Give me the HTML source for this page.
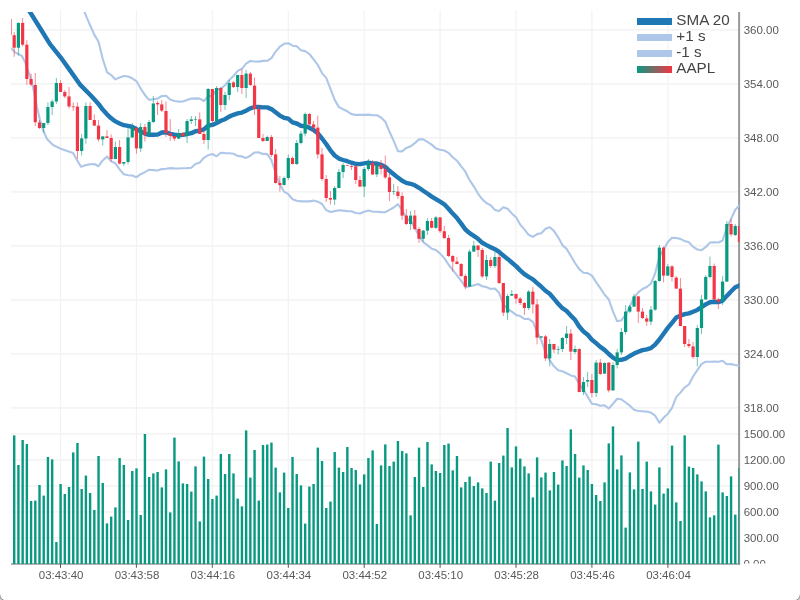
<!DOCTYPE html><html><head><meta charset="utf-8"><title>AAPL chart</title><style>html,body{margin:0;padding:0;background:#fff;overflow:hidden}svg{display:block}text{font-family:"Liberation Sans",sans-serif}</style></head><body>
<svg width="800" height="600" viewBox="0 0 800 600">
<defs><clipPath id="cp"><rect x="11" y="12" width="728.3" height="413"/></clipPath><clipPath id="cv"><rect x="11" y="420" width="728.3" height="144"/></clipPath><linearGradient id="lg" x1="0" x2="1" y1="0" y2="0"><stop offset="0" stop-color="#089981"/><stop offset="1" stop-color="#f23645"/></linearGradient></defs>
<rect width="800" height="600" fill="#cfcfcf"/>
<path d="M0 0H800V594.4a6 6 0 0 1 -6 6H6a6 6 0 0 1 -6 -6Z" fill="#fff"/>
<path d="M-0.3 594.4a6.3 6.3 0 0 0 6.3 6.3" fill="none" stroke="#8c8c8c" stroke-width="1"/><path d="M800.3 594.4a6.3 6.3 0 0 1 -6.3 6.3" fill="none" stroke="#8c8c8c" stroke-width="1"/>
<line x1="11" x2="739" y1="29.9" y2="29.9" stroke="#f0f0f0" stroke-width="1.15"/>
<line x1="11" x2="739" y1="83.9" y2="83.9" stroke="#f0f0f0" stroke-width="1.15"/>
<line x1="11" x2="739" y1="137.9" y2="137.9" stroke="#f0f0f0" stroke-width="1.15"/>
<line x1="11" x2="739" y1="191.9" y2="191.9" stroke="#f0f0f0" stroke-width="1.15"/>
<line x1="11" x2="739" y1="245.9" y2="245.9" stroke="#f0f0f0" stroke-width="1.15"/>
<line x1="11" x2="739" y1="299.9" y2="299.9" stroke="#f0f0f0" stroke-width="1.15"/>
<line x1="11" x2="739" y1="353.9" y2="353.9" stroke="#f0f0f0" stroke-width="1.15"/>
<line x1="11" x2="739" y1="407.9" y2="407.9" stroke="#f0f0f0" stroke-width="1.15"/>
<line x1="11" x2="739" y1="433.9" y2="433.9" stroke="#f0f0f0" stroke-width="1.15"/>
<line x1="11" x2="739" y1="459.9" y2="459.9" stroke="#f0f0f0" stroke-width="1.15"/>
<line x1="11" x2="739" y1="485.8" y2="485.8" stroke="#f0f0f0" stroke-width="1.15"/>
<line x1="11" x2="739" y1="511.8" y2="511.8" stroke="#f0f0f0" stroke-width="1.15"/>
<line x1="11" x2="739" y1="537.8" y2="537.8" stroke="#f0f0f0" stroke-width="1.15"/>
<line x1="60.5" x2="60.5" y1="10.5" y2="564" stroke="#f2f2f2" stroke-width="1.2"/>
<line x1="136.4" x2="136.4" y1="10.5" y2="564" stroke="#f2f2f2" stroke-width="1.2"/>
<line x1="212.3" x2="212.3" y1="10.5" y2="564" stroke="#f2f2f2" stroke-width="1.2"/>
<line x1="288.3" x2="288.3" y1="10.5" y2="564" stroke="#f2f2f2" stroke-width="1.2"/>
<line x1="364.2" x2="364.2" y1="10.5" y2="564" stroke="#f2f2f2" stroke-width="1.2"/>
<line x1="440.1" x2="440.1" y1="10.5" y2="564" stroke="#f2f2f2" stroke-width="1.2"/>
<line x1="516.0" x2="516.0" y1="10.5" y2="564" stroke="#f2f2f2" stroke-width="1.2"/>
<line x1="591.9" x2="591.9" y1="10.5" y2="564" stroke="#f2f2f2" stroke-width="1.2"/>
<line x1="667.9" x2="667.9" y1="10.5" y2="564" stroke="#f2f2f2" stroke-width="1.2"/>
<line x1="739.1" x2="739.1" y1="12" y2="564.5" stroke="#999999" stroke-width="2"/>
<line x1="11" x2="740" y1="564" y2="564" stroke="#999999" stroke-width="1.3"/>
<line x1="60.5" x2="60.5" y1="564" y2="567.8" stroke="#555" stroke-width="1"/>
<line x1="136.4" x2="136.4" y1="564" y2="567.8" stroke="#555" stroke-width="1"/>
<line x1="212.3" x2="212.3" y1="564" y2="567.8" stroke="#555" stroke-width="1"/>
<line x1="288.3" x2="288.3" y1="564" y2="567.8" stroke="#555" stroke-width="1"/>
<line x1="364.2" x2="364.2" y1="564" y2="567.8" stroke="#555" stroke-width="1"/>
<line x1="440.1" x2="440.1" y1="564" y2="567.8" stroke="#555" stroke-width="1"/>
<line x1="516.0" x2="516.0" y1="564" y2="567.8" stroke="#555" stroke-width="1"/>
<line x1="591.9" x2="591.9" y1="564" y2="567.8" stroke="#555" stroke-width="1"/>
<line x1="667.9" x2="667.9" y1="564" y2="567.8" stroke="#555" stroke-width="1"/>
<g clip-path="url(#cp)">
<polyline points="11.0,-18.0 30.0,12.0 40.0,28.0 50.0,44.1 60.6,57.3 70.0,70.4 80.0,84.6 90.1,94.8 94.3,99.3 98.5,103.9 102.7,109.6 107.0,114.3 111.2,118.3 115.4,121.4 119.6,123.5 123.8,125.2 128.0,125.9 132.3,126.9 136.5,129.2 140.7,131.4 144.9,133.6 149.1,134.8 153.3,134.7 157.6,134.6 161.8,132.5 166.0,132.3 170.2,133.8 174.4,134.7 178.6,135.1 182.9,134.9 187.1,134.1 191.3,133.2 195.5,131.2 199.7,130.6 203.9,129.4 208.2,125.7 212.4,124.9 216.6,123.0 220.8,120.8 225.0,119.2 229.2,116.6 233.5,114.8 237.7,113.4 241.9,112.6 246.1,110.7 250.3,108.3 254.5,107.0 258.8,107.0 263.0,107.4 267.2,107.4 271.4,109.1 275.6,112.3 279.8,115.6 284.1,117.8 288.3,118.7 292.5,122.4 296.7,123.5 300.9,125.8 305.1,126.3 309.4,127.7 313.6,130.0 317.8,133.3 322.0,138.5 326.2,144.0 330.4,150.3 334.7,155.5 338.9,158.6 343.1,160.0 347.3,161.2 351.5,162.7 355.7,164.0 360.0,164.1 364.2,163.3 368.4,162.6 372.6,163.4 376.8,163.5 381.0,164.8 385.3,166.9 389.5,170.8 393.7,174.2 397.9,177.6 402.1,180.7 406.3,182.9 410.6,183.8 414.8,185.3 419.0,187.8 423.2,190.7 427.4,193.5 431.7,196.6 435.9,199.2 440.1,201.7 444.3,204.3 448.5,208.7 452.7,213.6 457.0,218.1 461.2,223.6 465.4,229.5 469.6,233.2 473.8,235.9 478.0,238.8 482.3,242.8 486.5,245.1 490.7,247.2 494.9,249.2 499.1,251.9 503.3,255.6 507.6,258.9 511.8,262.5 516.0,266.1 520.2,270.4 524.4,274.2 528.6,276.9 532.9,279.3 537.1,283.1 541.3,286.7 545.5,290.8 549.7,293.7 553.9,298.6 558.2,303.8 562.4,308.2 566.6,311.0 570.8,315.6 575.0,319.8 579.2,326.5 583.5,331.5 587.7,334.8 591.9,339.7 596.1,343.1 600.3,346.9 604.5,349.9 608.8,354.0 613.0,357.7 617.2,360.1 621.4,359.8 625.6,358.6 629.8,356.0 634.1,353.6 638.3,351.7 642.5,350.1 646.7,349.3 650.9,348.1 655.1,344.6 659.4,339.5 663.6,333.7 667.8,327.9 672.0,322.8 676.2,317.6 680.4,315.7 684.7,314.2 688.9,313.4 693.1,311.7 697.3,309.9 701.5,307.2 705.7,304.4 710.0,302.2 714.2,301.8 718.4,302.1 722.6,300.6 726.8,295.9 731.0,291.5 735.3,287.3 739.5,285.4 743.7,283.4" fill="none" stroke="#1f77b4" stroke-width="4.4" stroke-linejoin="round" stroke-linecap="round"/>
<polyline points="70.0,-22.6 86.0,15.6 90.1,25.3 94.3,34.6 98.5,41.7 102.7,58.8 107.0,72.1 111.2,75.1 115.4,79.4 119.6,77.5 123.8,76.0 128.0,76.5 132.3,78.3 136.5,81.3 140.7,88.6 144.9,95.0 149.1,99.9 153.3,99.3 157.6,98.6 161.8,96.0 166.0,95.8 170.2,99.5 174.4,101.0 178.6,101.6 182.9,101.5 187.1,100.1 191.3,98.6 195.5,98.4 199.7,98.6 203.9,101.0 208.2,96.2 212.4,95.9 216.6,89.6 220.8,88.8 225.0,85.3 229.2,80.0 233.5,76.0 237.7,70.9 241.9,68.8 246.1,63.6 250.3,61.0 254.5,61.5 258.8,61.6 263.0,60.9 267.2,60.8 271.4,58.1 275.6,51.6 279.8,46.7 284.1,43.8 288.3,43.2 292.5,45.7 296.7,46.2 300.9,50.3 305.1,51.1 309.4,54.0 313.6,59.3 317.8,64.9 322.0,73.1 326.2,77.9 330.4,88.6 334.7,99.9 338.9,107.1 343.1,109.3 347.3,111.3 351.5,114.1 355.7,114.9 360.0,114.7 364.2,114.9 368.4,114.6 372.6,115.2 376.8,115.2 381.0,117.5 385.3,121.7 389.5,131.8 393.7,140.9 397.9,151.1 402.1,151.4 406.3,147.9 410.6,146.3 414.8,143.2 419.0,139.4 423.2,139.3 427.4,141.9 431.7,144.6 435.9,148.4 440.1,149.8 444.3,150.5 448.5,152.8 452.7,157.3 457.0,160.7 461.2,166.4 465.4,171.7 469.6,180.2 473.8,186.3 478.0,193.6 482.3,199.4 486.5,203.0 490.7,205.3 494.9,209.9 499.1,211.1 503.3,207.2 507.6,208.7 511.8,213.4 516.0,217.3 520.2,224.6 524.4,229.4 528.6,234.9 532.9,236.8 537.1,234.1 541.3,233.2 545.5,228.8 549.7,227.3 553.9,230.9 558.2,237.3 562.4,245.1 566.6,248.9 570.8,255.8 575.0,263.0 579.2,269.1 583.5,272.8 587.7,273.1 591.9,275.6 596.1,282.1 600.3,288.1 604.5,294.5 608.8,299.5 613.0,311.7 617.2,321.3 621.4,320.3 625.6,314.7 629.8,306.3 634.1,297.4 638.3,292.4 642.5,289.0 646.7,287.0 650.9,283.7 655.1,273.5 659.4,256.4 663.6,249.7 667.8,242.0 672.0,237.7 676.2,238.0 680.4,238.9 684.7,241.1 688.9,242.3 693.1,246.9 697.3,249.5 701.5,250.2 705.7,247.2 710.0,242.5 714.2,242.2 718.4,242.5 722.6,240.5 726.8,227.4 731.0,219.0 735.3,209.7 739.5,205.2 743.7,200.6" fill="none" stroke="#aec7e8" stroke-width="2.1" stroke-linejoin="round"/>
<polyline points="11.0,48.0 15.0,52.4 22.0,56.0 25.0,62.0 30.0,76.0 33.0,87.0 37.0,107.0 40.0,120.0 43.0,130.0 47.0,139.0 53.0,145.0 60.0,148.4 73.0,153.1 77.0,160.1 81.0,166.7 86.0,165.1 90.1,164.3 94.3,164.0 98.5,166.2 102.7,160.4 107.0,156.4 111.2,161.4 115.4,163.3 119.6,169.4 123.8,174.3 128.0,175.3 132.3,175.5 136.5,177.2 140.7,174.2 144.9,172.1 149.1,169.7 153.3,170.1 157.6,170.5 161.8,169.1 166.0,168.7 170.2,168.1 174.4,168.4 178.6,168.5 182.9,168.3 187.1,168.1 191.3,167.7 195.5,164.0 199.7,162.6 203.9,157.8 208.2,155.2 212.4,154.0 216.6,156.3 220.8,152.8 225.0,153.1 229.2,153.2 233.5,153.7 237.7,155.9 241.9,156.4 246.1,157.9 250.3,155.7 254.5,152.5 258.8,152.4 263.0,153.9 267.2,154.1 271.4,160.1 275.6,173.0 279.8,184.4 284.1,191.7 288.3,194.2 292.5,199.2 296.7,200.8 300.9,201.4 305.1,201.4 309.4,201.4 313.6,200.6 317.8,201.7 322.0,204.0 326.2,210.1 330.4,212.0 334.7,211.1 338.9,210.2 343.1,210.6 347.3,211.1 351.5,211.3 355.7,213.0 360.0,213.5 364.2,211.8 368.4,210.6 372.6,211.6 376.8,211.7 381.0,212.1 385.3,212.2 389.5,209.9 393.7,207.5 397.9,204.2 402.1,209.9 406.3,218.0 410.6,221.3 414.8,227.4 419.0,236.2 423.2,242.1 427.4,245.1 431.7,248.7 435.9,250.0 440.1,253.6 444.3,258.1 448.5,264.5 452.7,269.8 457.0,275.4 461.2,280.8 465.4,287.3 469.6,286.2 473.8,285.4 478.0,284.0 482.3,286.3 486.5,287.1 490.7,289.0 494.9,288.5 499.1,292.8 503.3,304.1 507.6,309.0 511.8,311.7 516.0,314.9 520.2,316.1 524.4,319.0 528.6,318.9 532.9,321.8 537.1,332.1 541.3,340.2 545.5,352.9 549.7,360.1 553.9,366.3 558.2,370.3 562.4,371.2 566.6,373.2 570.8,375.4 575.0,376.5 579.2,383.9 583.5,390.1 587.7,396.6 591.9,403.8 596.1,404.2 600.3,405.7 604.5,405.3 608.8,408.5 613.0,403.7 617.2,398.8 621.4,399.3 625.6,402.5 629.8,405.7 634.1,409.8 638.3,411.0 642.5,411.3 646.7,411.6 650.9,412.6 655.1,415.6 659.4,422.7 663.6,417.7 667.8,413.8 672.0,407.8 676.2,397.1 680.4,392.6 684.7,387.3 688.9,384.5 693.1,376.5 697.3,370.2 701.5,364.2 705.7,361.7 710.0,361.8 714.2,361.5 718.4,361.7 722.6,360.7 726.8,364.3 731.0,364.1 735.3,365.0 739.5,365.6 743.7,366.2" fill="none" stroke="#aec7e8" stroke-width="2.1" stroke-linejoin="round"/>
<line x1="9.97" x2="9.97" y1="19.0" y2="35.0" stroke="#f23645" stroke-width="1" stroke-opacity="0.58"/>
<rect x="8.37" y="19.0" width="3.2" height="16.0" fill="#f23645"/>
<line x1="14.19" x2="14.19" y1="32.2" y2="56.7" stroke="#f23645" stroke-width="1" stroke-opacity="0.58"/>
<rect x="12.59" y="35.2" width="3.2" height="12.5" fill="#f23645"/>
<line x1="18.40" x2="18.40" y1="22.5" y2="55.5" stroke="#089981" stroke-width="1" stroke-opacity="0.58"/>
<rect x="16.80" y="22.9" width="3.2" height="24.8" fill="#089981"/>
<line x1="22.62" x2="22.62" y1="18.0" y2="46.5" stroke="#f23645" stroke-width="1" stroke-opacity="0.58"/>
<rect x="21.02" y="22.9" width="3.2" height="21.8" fill="#f23645"/>
<line x1="26.84" x2="26.84" y1="40.2" y2="85.0" stroke="#f23645" stroke-width="1" stroke-opacity="0.58"/>
<rect x="25.24" y="44.7" width="3.2" height="34.3" fill="#f23645"/>
<line x1="31.05" x2="31.05" y1="73.6" y2="86.0" stroke="#f23645" stroke-width="1" stroke-opacity="0.58"/>
<rect x="29.45" y="79.0" width="3.2" height="5.5" fill="#f23645"/>
<line x1="35.27" x2="35.27" y1="73.0" y2="126.0" stroke="#f23645" stroke-width="1" stroke-opacity="0.58"/>
<rect x="33.67" y="85.0" width="3.2" height="37.2" fill="#f23645"/>
<line x1="39.49" x2="39.49" y1="120.0" y2="129.0" stroke="#f23645" stroke-width="1" stroke-opacity="0.58"/>
<rect x="37.89" y="122.4" width="3.2" height="5.6" fill="#f23645"/>
<line x1="43.70" x2="43.70" y1="123.0" y2="132.6" stroke="#089981" stroke-width="1" stroke-opacity="0.58"/>
<rect x="42.10" y="123.0" width="3.2" height="5.0" fill="#089981"/>
<line x1="47.92" x2="47.92" y1="102.4" y2="125.0" stroke="#089981" stroke-width="1" stroke-opacity="0.58"/>
<rect x="46.32" y="107.0" width="3.2" height="16.0" fill="#089981"/>
<line x1="52.14" x2="52.14" y1="99.5" y2="115.0" stroke="#089981" stroke-width="1" stroke-opacity="0.58"/>
<rect x="50.54" y="101.5" width="3.2" height="5.5" fill="#089981"/>
<line x1="56.35" x2="56.35" y1="78.0" y2="104.0" stroke="#089981" stroke-width="1" stroke-opacity="0.58"/>
<rect x="54.75" y="83.0" width="3.2" height="18.5" fill="#089981"/>
<line x1="60.57" x2="60.57" y1="80.0" y2="92.0" stroke="#f23645" stroke-width="1" stroke-opacity="0.58"/>
<rect x="58.97" y="83.0" width="3.2" height="9.0" fill="#f23645"/>
<line x1="64.79" x2="64.79" y1="90.0" y2="98.0" stroke="#f23645" stroke-width="1" stroke-opacity="0.58"/>
<rect x="63.19" y="92.0" width="3.2" height="4.4" fill="#f23645"/>
<line x1="69.01" x2="69.01" y1="87.0" y2="108.5" stroke="#f23645" stroke-width="1" stroke-opacity="0.58"/>
<rect x="67.41" y="96.4" width="3.2" height="10.1" fill="#f23645"/>
<line x1="73.22" x2="73.22" y1="102.4" y2="111.0" stroke="#f23645" stroke-width="1" stroke-opacity="0.58"/>
<rect x="71.62" y="106.5" width="3.2" height="0.7" fill="#f23645"/>
<line x1="77.44" x2="77.44" y1="102.4" y2="159.0" stroke="#f23645" stroke-width="1" stroke-opacity="0.58"/>
<rect x="75.84" y="106.6" width="3.2" height="44.4" fill="#f23645"/>
<line x1="81.66" x2="81.66" y1="134.0" y2="155.6" stroke="#089981" stroke-width="1" stroke-opacity="0.58"/>
<rect x="80.06" y="138.4" width="3.2" height="12.6" fill="#089981"/>
<line x1="85.87" x2="85.87" y1="102.4" y2="143.6" stroke="#089981" stroke-width="1" stroke-opacity="0.58"/>
<rect x="84.27" y="106.0" width="3.2" height="32.4" fill="#089981"/>
<line x1="90.09" x2="90.09" y1="102.4" y2="120.0" stroke="#f23645" stroke-width="1" stroke-opacity="0.58"/>
<rect x="88.49" y="106.0" width="3.2" height="14.0" fill="#f23645"/>
<line x1="94.31" x2="94.31" y1="114.4" y2="126.0" stroke="#f23645" stroke-width="1" stroke-opacity="0.58"/>
<rect x="92.71" y="120.0" width="3.2" height="5.6" fill="#f23645"/>
<line x1="98.52" x2="98.52" y1="120.0" y2="141.6" stroke="#f23645" stroke-width="1" stroke-opacity="0.58"/>
<rect x="96.92" y="125.6" width="3.2" height="13.8" fill="#f23645"/>
<line x1="102.74" x2="102.74" y1="136.4" y2="145.6" stroke="#089981" stroke-width="1" stroke-opacity="0.58"/>
<rect x="101.14" y="136.4" width="3.2" height="3.0" fill="#089981"/>
<line x1="106.96" x2="106.96" y1="130.0" y2="138.0" stroke="#f23645" stroke-width="1" stroke-opacity="0.58"/>
<rect x="105.36" y="136.4" width="3.2" height="1.6" fill="#f23645"/>
<line x1="111.17" x2="111.17" y1="134.4" y2="161.6" stroke="#f23645" stroke-width="1" stroke-opacity="0.58"/>
<rect x="109.57" y="138.0" width="3.2" height="21.0" fill="#f23645"/>
<line x1="115.39" x2="115.39" y1="141.6" y2="159.0" stroke="#089981" stroke-width="1" stroke-opacity="0.58"/>
<rect x="113.79" y="147.0" width="3.2" height="12.0" fill="#089981"/>
<line x1="119.61" x2="119.61" y1="140.0" y2="164.4" stroke="#f23645" stroke-width="1" stroke-opacity="0.58"/>
<rect x="118.01" y="147.0" width="3.2" height="16.6" fill="#f23645"/>
<line x1="123.82" x2="123.82" y1="162.0" y2="166.0" stroke="#089981" stroke-width="1" stroke-opacity="0.58"/>
<rect x="122.22" y="162.0" width="3.2" height="1.6" fill="#089981"/>
<line x1="128.04" x2="128.04" y1="128.0" y2="164.4" stroke="#089981" stroke-width="1" stroke-opacity="0.58"/>
<rect x="126.44" y="137.4" width="3.2" height="24.6" fill="#089981"/>
<line x1="132.26" x2="132.26" y1="123.0" y2="138.0" stroke="#089981" stroke-width="1" stroke-opacity="0.58"/>
<rect x="130.66" y="127.0" width="3.2" height="10.4" fill="#089981"/>
<line x1="136.47" x2="136.47" y1="126.0" y2="153.6" stroke="#f23645" stroke-width="1" stroke-opacity="0.58"/>
<rect x="134.87" y="128.0" width="3.2" height="20.4" fill="#f23645"/>
<line x1="140.69" x2="140.69" y1="123.0" y2="152.0" stroke="#089981" stroke-width="1" stroke-opacity="0.58"/>
<rect x="139.09" y="127.0" width="3.2" height="21.4" fill="#089981"/>
<line x1="144.91" x2="144.91" y1="124.0" y2="141.6" stroke="#f23645" stroke-width="1" stroke-opacity="0.58"/>
<rect x="143.31" y="127.0" width="3.2" height="8.0" fill="#f23645"/>
<line x1="149.12" x2="149.12" y1="120.0" y2="136.0" stroke="#089981" stroke-width="1" stroke-opacity="0.58"/>
<rect x="147.52" y="122.0" width="3.2" height="13.0" fill="#089981"/>
<line x1="153.34" x2="153.34" y1="96.0" y2="123.0" stroke="#089981" stroke-width="1" stroke-opacity="0.58"/>
<rect x="151.74" y="103.5" width="3.2" height="18.5" fill="#089981"/>
<line x1="157.56" x2="157.56" y1="101.0" y2="115.0" stroke="#f23645" stroke-width="1" stroke-opacity="0.58"/>
<rect x="155.96" y="103.0" width="3.2" height="1.4" fill="#f23645"/>
<line x1="161.77" x2="161.77" y1="100.0" y2="112.0" stroke="#f23645" stroke-width="1" stroke-opacity="0.58"/>
<rect x="160.17" y="104.4" width="3.2" height="6.2" fill="#f23645"/>
<line x1="165.99" x2="165.99" y1="101.6" y2="137.0" stroke="#f23645" stroke-width="1" stroke-opacity="0.58"/>
<rect x="164.39" y="111.0" width="3.2" height="22.0" fill="#f23645"/>
<line x1="170.21" x2="170.21" y1="119.0" y2="141.0" stroke="#f23645" stroke-width="1" stroke-opacity="0.58"/>
<rect x="168.61" y="133.0" width="3.2" height="3.0" fill="#f23645"/>
<line x1="174.43" x2="174.43" y1="136.0" y2="141.0" stroke="#f23645" stroke-width="1" stroke-opacity="0.58"/>
<rect x="172.83" y="136.0" width="3.2" height="2.6" fill="#f23645"/>
<line x1="178.64" x2="178.64" y1="129.0" y2="139.0" stroke="#089981" stroke-width="1" stroke-opacity="0.58"/>
<rect x="177.04" y="133.0" width="3.2" height="5.6" fill="#089981"/>
<line x1="182.86" x2="182.86" y1="132.0" y2="137.0" stroke="#f23645" stroke-width="1" stroke-opacity="0.58"/>
<rect x="181.26" y="133.0" width="3.2" height="3.0" fill="#f23645"/>
<line x1="187.08" x2="187.08" y1="119.0" y2="143.0" stroke="#089981" stroke-width="1" stroke-opacity="0.58"/>
<rect x="185.48" y="121.0" width="3.2" height="15.0" fill="#089981"/>
<line x1="191.29" x2="191.29" y1="116.0" y2="124.0" stroke="#089981" stroke-width="1" stroke-opacity="0.58"/>
<rect x="189.69" y="119.4" width="3.2" height="1.6" fill="#089981"/>
<line x1="195.51" x2="195.51" y1="116.0" y2="126.0" stroke="#089981" stroke-width="1" stroke-opacity="0.58"/>
<rect x="193.91" y="119.4" width="3.2" height="0.6" fill="#089981"/>
<line x1="199.73" x2="199.73" y1="112.4" y2="134.0" stroke="#f23645" stroke-width="1" stroke-opacity="0.58"/>
<rect x="198.13" y="119.4" width="3.2" height="14.6" fill="#f23645"/>
<line x1="203.94" x2="203.94" y1="131.0" y2="144.0" stroke="#f23645" stroke-width="1" stroke-opacity="0.58"/>
<rect x="202.34" y="134.0" width="3.2" height="6.0" fill="#f23645"/>
<line x1="208.16" x2="208.16" y1="88.0" y2="149.6" stroke="#089981" stroke-width="1" stroke-opacity="0.58"/>
<rect x="206.56" y="89.0" width="3.2" height="51.0" fill="#089981"/>
<line x1="212.38" x2="212.38" y1="89.0" y2="123.0" stroke="#f23645" stroke-width="1" stroke-opacity="0.58"/>
<rect x="210.78" y="89.0" width="3.2" height="32.0" fill="#f23645"/>
<line x1="216.59" x2="216.59" y1="86.0" y2="121.0" stroke="#089981" stroke-width="1" stroke-opacity="0.58"/>
<rect x="214.99" y="88.0" width="3.2" height="33.0" fill="#089981"/>
<line x1="220.81" x2="220.81" y1="87.0" y2="112.0" stroke="#f23645" stroke-width="1" stroke-opacity="0.58"/>
<rect x="219.21" y="88.0" width="3.2" height="17.0" fill="#f23645"/>
<line x1="225.03" x2="225.03" y1="91.6" y2="110.0" stroke="#089981" stroke-width="1" stroke-opacity="0.58"/>
<rect x="223.43" y="95.0" width="3.2" height="10.0" fill="#089981"/>
<line x1="229.24" x2="229.24" y1="80.0" y2="100.0" stroke="#089981" stroke-width="1" stroke-opacity="0.58"/>
<rect x="227.64" y="83.0" width="3.2" height="12.0" fill="#089981"/>
<line x1="233.46" x2="233.46" y1="81.0" y2="88.0" stroke="#f23645" stroke-width="1" stroke-opacity="0.58"/>
<rect x="231.86" y="82.4" width="3.2" height="4.6" fill="#f23645"/>
<line x1="237.68" x2="237.68" y1="75.0" y2="92.0" stroke="#089981" stroke-width="1" stroke-opacity="0.58"/>
<rect x="236.08" y="75.0" width="3.2" height="12.0" fill="#089981"/>
<line x1="241.89" x2="241.89" y1="69.0" y2="94.0" stroke="#f23645" stroke-width="1" stroke-opacity="0.58"/>
<rect x="240.29" y="75.0" width="3.2" height="13.0" fill="#f23645"/>
<line x1="246.11" x2="246.11" y1="70.0" y2="98.0" stroke="#089981" stroke-width="1" stroke-opacity="0.58"/>
<rect x="244.51" y="73.6" width="3.2" height="14.4" fill="#089981"/>
<line x1="250.33" x2="250.33" y1="72.0" y2="86.0" stroke="#f23645" stroke-width="1" stroke-opacity="0.58"/>
<rect x="248.73" y="73.6" width="3.2" height="11.4" fill="#f23645"/>
<line x1="254.54" x2="254.54" y1="77.6" y2="115.0" stroke="#f23645" stroke-width="1" stroke-opacity="0.58"/>
<rect x="252.94" y="85.6" width="3.2" height="23.4" fill="#f23645"/>
<line x1="258.76" x2="258.76" y1="105.0" y2="138.0" stroke="#f23645" stroke-width="1" stroke-opacity="0.58"/>
<rect x="257.16" y="109.0" width="3.2" height="29.0" fill="#f23645"/>
<line x1="262.98" x2="262.98" y1="134.0" y2="142.0" stroke="#f23645" stroke-width="1" stroke-opacity="0.58"/>
<rect x="261.38" y="138.0" width="3.2" height="3.0" fill="#f23645"/>
<line x1="267.19" x2="267.19" y1="135.6" y2="141.0" stroke="#089981" stroke-width="1" stroke-opacity="0.58"/>
<rect x="265.59" y="137.0" width="3.2" height="4.0" fill="#089981"/>
<line x1="271.41" x2="271.41" y1="135.0" y2="157.0" stroke="#f23645" stroke-width="1" stroke-opacity="0.58"/>
<rect x="269.81" y="137.0" width="3.2" height="18.0" fill="#f23645"/>
<line x1="275.63" x2="275.63" y1="149.0" y2="183.6" stroke="#f23645" stroke-width="1" stroke-opacity="0.58"/>
<rect x="274.03" y="154.4" width="3.2" height="28.6" fill="#f23645"/>
<line x1="279.85" x2="279.85" y1="176.0" y2="191.6" stroke="#f23645" stroke-width="1" stroke-opacity="0.58"/>
<rect x="278.25" y="183.0" width="3.2" height="2.0" fill="#f23645"/>
<line x1="284.06" x2="284.06" y1="176.5" y2="185.6" stroke="#089981" stroke-width="1" stroke-opacity="0.58"/>
<rect x="282.46" y="178.0" width="3.2" height="7.0" fill="#089981"/>
<line x1="288.28" x2="288.28" y1="154.4" y2="180.0" stroke="#089981" stroke-width="1" stroke-opacity="0.58"/>
<rect x="286.68" y="158.0" width="3.2" height="20.0" fill="#089981"/>
<line x1="292.50" x2="292.50" y1="156.4" y2="164.4" stroke="#f23645" stroke-width="1" stroke-opacity="0.58"/>
<rect x="290.90" y="158.0" width="3.2" height="6.0" fill="#f23645"/>
<line x1="296.71" x2="296.71" y1="140.0" y2="165.0" stroke="#089981" stroke-width="1" stroke-opacity="0.58"/>
<rect x="295.11" y="143.0" width="3.2" height="21.0" fill="#089981"/>
<line x1="300.93" x2="300.93" y1="131.0" y2="144.4" stroke="#089981" stroke-width="1" stroke-opacity="0.58"/>
<rect x="299.33" y="133.6" width="3.2" height="9.4" fill="#089981"/>
<line x1="305.15" x2="305.15" y1="112.4" y2="136.4" stroke="#089981" stroke-width="1" stroke-opacity="0.58"/>
<rect x="303.55" y="114.0" width="3.2" height="19.6" fill="#089981"/>
<line x1="309.36" x2="309.36" y1="113.0" y2="125.0" stroke="#f23645" stroke-width="1" stroke-opacity="0.58"/>
<rect x="307.76" y="114.0" width="3.2" height="10.4" fill="#f23645"/>
<line x1="313.58" x2="313.58" y1="121.0" y2="133.0" stroke="#f23645" stroke-width="1" stroke-opacity="0.58"/>
<rect x="311.98" y="124.4" width="3.2" height="3.2" fill="#f23645"/>
<line x1="317.80" x2="317.80" y1="115.6" y2="158.5" stroke="#f23645" stroke-width="1" stroke-opacity="0.58"/>
<rect x="316.20" y="127.6" width="3.2" height="26.8" fill="#f23645"/>
<line x1="322.01" x2="322.01" y1="148.0" y2="181.0" stroke="#f23645" stroke-width="1" stroke-opacity="0.58"/>
<rect x="320.41" y="154.4" width="3.2" height="24.6" fill="#f23645"/>
<line x1="326.23" x2="326.23" y1="175.0" y2="202.0" stroke="#f23645" stroke-width="1" stroke-opacity="0.58"/>
<rect x="324.63" y="179.0" width="3.2" height="19.0" fill="#f23645"/>
<line x1="330.45" x2="330.45" y1="191.0" y2="204.4" stroke="#f23645" stroke-width="1" stroke-opacity="0.58"/>
<rect x="328.85" y="198.0" width="3.2" height="1.6" fill="#f23645"/>
<line x1="334.66" x2="334.66" y1="186.0" y2="205.0" stroke="#089981" stroke-width="1" stroke-opacity="0.58"/>
<rect x="333.06" y="188.0" width="3.2" height="11.6" fill="#089981"/>
<line x1="338.88" x2="338.88" y1="169.0" y2="188.0" stroke="#089981" stroke-width="1" stroke-opacity="0.58"/>
<rect x="337.28" y="172.0" width="3.2" height="16.0" fill="#089981"/>
<line x1="343.10" x2="343.10" y1="163.0" y2="178.0" stroke="#089981" stroke-width="1" stroke-opacity="0.58"/>
<rect x="341.50" y="165.0" width="3.2" height="7.0" fill="#089981"/>
<line x1="347.31" x2="347.31" y1="165.0" y2="166.0" stroke="#f23645" stroke-width="1" stroke-opacity="0.58"/>
<rect x="345.71" y="165.1" width="3.2" height="0.6" fill="#f23645"/>
<line x1="351.53" x2="351.53" y1="165.0" y2="170.0" stroke="#f23645" stroke-width="1" stroke-opacity="0.58"/>
<rect x="349.93" y="166.0" width="3.2" height="0.8" fill="#f23645"/>
<line x1="355.75" x2="355.75" y1="165.0" y2="184.0" stroke="#f23645" stroke-width="1" stroke-opacity="0.58"/>
<rect x="354.15" y="166.4" width="3.2" height="13.6" fill="#f23645"/>
<line x1="359.96" x2="359.96" y1="176.0" y2="187.0" stroke="#f23645" stroke-width="1" stroke-opacity="0.58"/>
<rect x="358.36" y="180.0" width="3.2" height="6.6" fill="#f23645"/>
<line x1="364.18" x2="364.18" y1="167.0" y2="197.0" stroke="#089981" stroke-width="1" stroke-opacity="0.58"/>
<rect x="362.58" y="169.0" width="3.2" height="17.6" fill="#089981"/>
<line x1="368.40" x2="368.40" y1="159.0" y2="171.0" stroke="#089981" stroke-width="1" stroke-opacity="0.58"/>
<rect x="366.80" y="163.0" width="3.2" height="6.0" fill="#089981"/>
<line x1="372.61" x2="372.61" y1="160.0" y2="175.0" stroke="#f23645" stroke-width="1" stroke-opacity="0.58"/>
<rect x="371.01" y="163.0" width="3.2" height="11.4" fill="#f23645"/>
<line x1="376.83" x2="376.83" y1="165.0" y2="177.0" stroke="#089981" stroke-width="1" stroke-opacity="0.58"/>
<rect x="375.23" y="165.0" width="3.2" height="9.4" fill="#089981"/>
<line x1="381.05" x2="381.05" y1="160.0" y2="174.4" stroke="#f23645" stroke-width="1" stroke-opacity="0.58"/>
<rect x="379.45" y="165.0" width="3.2" height="4.0" fill="#f23645"/>
<line x1="385.27" x2="385.27" y1="155.6" y2="179.0" stroke="#f23645" stroke-width="1" stroke-opacity="0.58"/>
<rect x="383.67" y="169.0" width="3.2" height="8.4" fill="#f23645"/>
<line x1="389.48" x2="389.48" y1="173.0" y2="201.0" stroke="#f23645" stroke-width="1" stroke-opacity="0.58"/>
<rect x="387.88" y="177.4" width="3.2" height="14.6" fill="#f23645"/>
<line x1="393.70" x2="393.70" y1="184.0" y2="195.0" stroke="#089981" stroke-width="1" stroke-opacity="0.58"/>
<rect x="392.10" y="191.3" width="3.2" height="0.6" fill="#089981"/>
<line x1="397.92" x2="397.92" y1="186.0" y2="199.0" stroke="#f23645" stroke-width="1" stroke-opacity="0.58"/>
<rect x="396.32" y="191.6" width="3.2" height="4.4" fill="#f23645"/>
<line x1="402.13" x2="402.13" y1="192.4" y2="220.0" stroke="#f23645" stroke-width="1" stroke-opacity="0.58"/>
<rect x="400.53" y="196.0" width="3.2" height="19.6" fill="#f23645"/>
<line x1="406.35" x2="406.35" y1="209.0" y2="225.0" stroke="#f23645" stroke-width="1" stroke-opacity="0.58"/>
<rect x="404.75" y="215.6" width="3.2" height="8.4" fill="#f23645"/>
<line x1="410.57" x2="410.57" y1="211.0" y2="230.0" stroke="#089981" stroke-width="1" stroke-opacity="0.58"/>
<rect x="408.97" y="215.6" width="3.2" height="8.4" fill="#089981"/>
<line x1="414.78" x2="414.78" y1="210.0" y2="230.0" stroke="#f23645" stroke-width="1" stroke-opacity="0.58"/>
<rect x="413.18" y="215.6" width="3.2" height="13.4" fill="#f23645"/>
<line x1="419.00" x2="419.00" y1="227.0" y2="243.0" stroke="#f23645" stroke-width="1" stroke-opacity="0.58"/>
<rect x="417.40" y="229.0" width="3.2" height="9.8" fill="#f23645"/>
<line x1="423.22" x2="423.22" y1="230.0" y2="241.6" stroke="#089981" stroke-width="1" stroke-opacity="0.58"/>
<rect x="421.62" y="230.6" width="3.2" height="8.2" fill="#089981"/>
<line x1="427.43" x2="427.43" y1="218.2" y2="235.0" stroke="#089981" stroke-width="1" stroke-opacity="0.58"/>
<rect x="425.83" y="221.0" width="3.2" height="9.6" fill="#089981"/>
<line x1="431.65" x2="431.65" y1="218.0" y2="228.4" stroke="#f23645" stroke-width="1" stroke-opacity="0.58"/>
<rect x="430.05" y="221.0" width="3.2" height="6.8" fill="#f23645"/>
<line x1="435.87" x2="435.87" y1="216.0" y2="229.0" stroke="#089981" stroke-width="1" stroke-opacity="0.58"/>
<rect x="434.27" y="217.4" width="3.2" height="10.4" fill="#089981"/>
<line x1="440.08" x2="440.08" y1="217.0" y2="233.0" stroke="#f23645" stroke-width="1" stroke-opacity="0.58"/>
<rect x="438.48" y="217.4" width="3.2" height="13.8" fill="#f23645"/>
<line x1="444.30" x2="444.30" y1="226.0" y2="239.0" stroke="#f23645" stroke-width="1" stroke-opacity="0.58"/>
<rect x="442.70" y="231.2" width="3.2" height="6.8" fill="#f23645"/>
<line x1="448.52" x2="448.52" y1="235.0" y2="257.0" stroke="#f23645" stroke-width="1" stroke-opacity="0.58"/>
<rect x="446.92" y="238.0" width="3.2" height="18.0" fill="#f23645"/>
<line x1="452.73" x2="452.73" y1="255.0" y2="271.6" stroke="#f23645" stroke-width="1" stroke-opacity="0.58"/>
<rect x="451.13" y="256.0" width="3.2" height="5.6" fill="#f23645"/>
<line x1="456.95" x2="456.95" y1="257.0" y2="264.4" stroke="#f23645" stroke-width="1" stroke-opacity="0.58"/>
<rect x="455.35" y="261.6" width="3.2" height="2.4" fill="#f23645"/>
<line x1="461.17" x2="461.17" y1="263.0" y2="277.0" stroke="#f23645" stroke-width="1" stroke-opacity="0.58"/>
<rect x="459.57" y="264.0" width="3.2" height="12.0" fill="#f23645"/>
<line x1="465.38" x2="465.38" y1="274.0" y2="289.0" stroke="#f23645" stroke-width="1" stroke-opacity="0.58"/>
<rect x="463.78" y="276.0" width="3.2" height="10.6" fill="#f23645"/>
<line x1="469.60" x2="469.60" y1="249.6" y2="287.0" stroke="#089981" stroke-width="1" stroke-opacity="0.58"/>
<rect x="468.00" y="251.6" width="3.2" height="35.0" fill="#089981"/>
<line x1="473.82" x2="473.82" y1="241.0" y2="252.0" stroke="#089981" stroke-width="1" stroke-opacity="0.58"/>
<rect x="472.22" y="245.6" width="3.2" height="6.0" fill="#089981"/>
<line x1="478.03" x2="478.03" y1="245.0" y2="257.0" stroke="#f23645" stroke-width="1" stroke-opacity="0.58"/>
<rect x="476.43" y="245.6" width="3.2" height="4.4" fill="#f23645"/>
<line x1="482.25" x2="482.25" y1="248.0" y2="278.0" stroke="#f23645" stroke-width="1" stroke-opacity="0.58"/>
<rect x="480.65" y="250.0" width="3.2" height="26.4" fill="#f23645"/>
<line x1="486.47" x2="486.47" y1="255.0" y2="280.0" stroke="#089981" stroke-width="1" stroke-opacity="0.58"/>
<rect x="484.87" y="260.0" width="3.2" height="16.4" fill="#089981"/>
<line x1="490.69" x2="490.69" y1="257.0" y2="268.0" stroke="#f23645" stroke-width="1" stroke-opacity="0.58"/>
<rect x="489.09" y="260.0" width="3.2" height="6.0" fill="#f23645"/>
<line x1="494.90" x2="494.90" y1="252.0" y2="268.0" stroke="#089981" stroke-width="1" stroke-opacity="0.58"/>
<rect x="493.30" y="257.0" width="3.2" height="9.0" fill="#089981"/>
<line x1="499.12" x2="499.12" y1="254.0" y2="284.0" stroke="#f23645" stroke-width="1" stroke-opacity="0.58"/>
<rect x="497.52" y="257.0" width="3.2" height="26.0" fill="#f23645"/>
<line x1="503.34" x2="503.34" y1="283.0" y2="316.0" stroke="#f23645" stroke-width="1" stroke-opacity="0.58"/>
<rect x="501.74" y="283.0" width="3.2" height="29.6" fill="#f23645"/>
<line x1="507.55" x2="507.55" y1="294.0" y2="320.0" stroke="#089981" stroke-width="1" stroke-opacity="0.58"/>
<rect x="505.95" y="296.0" width="3.2" height="16.6" fill="#089981"/>
<line x1="511.77" x2="511.77" y1="290.0" y2="296.0" stroke="#089981" stroke-width="1" stroke-opacity="0.58"/>
<rect x="510.17" y="294.0" width="3.2" height="1.6" fill="#089981"/>
<line x1="515.99" x2="515.99" y1="293.6" y2="303.6" stroke="#f23645" stroke-width="1" stroke-opacity="0.58"/>
<rect x="514.39" y="294.0" width="3.2" height="4.6" fill="#f23645"/>
<line x1="520.20" x2="520.20" y1="297.0" y2="305.0" stroke="#f23645" stroke-width="1" stroke-opacity="0.58"/>
<rect x="518.60" y="298.6" width="3.2" height="4.4" fill="#f23645"/>
<line x1="524.42" x2="524.42" y1="302.0" y2="315.0" stroke="#f23645" stroke-width="1" stroke-opacity="0.58"/>
<rect x="522.82" y="303.0" width="3.2" height="5.0" fill="#f23645"/>
<line x1="528.64" x2="528.64" y1="290.0" y2="310.0" stroke="#089981" stroke-width="1" stroke-opacity="0.58"/>
<rect x="527.04" y="291.6" width="3.2" height="16.4" fill="#089981"/>
<line x1="532.85" x2="532.85" y1="287.0" y2="313.6" stroke="#f23645" stroke-width="1" stroke-opacity="0.58"/>
<rect x="531.25" y="291.6" width="3.2" height="12.8" fill="#f23645"/>
<line x1="537.07" x2="537.07" y1="299.0" y2="344.4" stroke="#f23645" stroke-width="1" stroke-opacity="0.58"/>
<rect x="535.47" y="304.4" width="3.2" height="33.2" fill="#f23645"/>
<line x1="541.29" x2="541.29" y1="336.4" y2="337.6" stroke="#089981" stroke-width="1" stroke-opacity="0.58"/>
<rect x="539.69" y="336.4" width="3.2" height="1.2" fill="#089981"/>
<line x1="545.50" x2="545.50" y1="335.0" y2="361.0" stroke="#f23645" stroke-width="1" stroke-opacity="0.58"/>
<rect x="543.90" y="336.4" width="3.2" height="22.0" fill="#f23645"/>
<line x1="549.72" x2="549.72" y1="339.0" y2="366.4" stroke="#089981" stroke-width="1" stroke-opacity="0.58"/>
<rect x="548.12" y="344.0" width="3.2" height="14.4" fill="#089981"/>
<line x1="553.94" x2="553.94" y1="343.6" y2="353.0" stroke="#f23645" stroke-width="1" stroke-opacity="0.58"/>
<rect x="552.34" y="344.0" width="3.2" height="5.6" fill="#f23645"/>
<line x1="558.15" x2="558.15" y1="346.0" y2="354.4" stroke="#089981" stroke-width="1" stroke-opacity="0.58"/>
<rect x="556.55" y="349.1" width="3.2" height="0.6" fill="#089981"/>
<line x1="562.37" x2="562.37" y1="337.0" y2="352.0" stroke="#089981" stroke-width="1" stroke-opacity="0.58"/>
<rect x="560.77" y="338.0" width="3.2" height="11.0" fill="#089981"/>
<line x1="566.59" x2="566.59" y1="326.0" y2="344.0" stroke="#089981" stroke-width="1" stroke-opacity="0.58"/>
<rect x="564.99" y="333.6" width="3.2" height="4.4" fill="#089981"/>
<line x1="570.80" x2="570.80" y1="329.0" y2="360.0" stroke="#f23645" stroke-width="1" stroke-opacity="0.58"/>
<rect x="569.20" y="333.6" width="3.2" height="18.0" fill="#f23645"/>
<line x1="575.02" x2="575.02" y1="345.6" y2="354.0" stroke="#089981" stroke-width="1" stroke-opacity="0.58"/>
<rect x="573.42" y="349.0" width="3.2" height="3.0" fill="#089981"/>
<line x1="579.24" x2="579.24" y1="348.4" y2="392.4" stroke="#f23645" stroke-width="1" stroke-opacity="0.58"/>
<rect x="577.64" y="349.0" width="3.2" height="43.0" fill="#f23645"/>
<line x1="583.45" x2="583.45" y1="377.0" y2="395.0" stroke="#089981" stroke-width="1" stroke-opacity="0.58"/>
<rect x="581.85" y="382.0" width="3.2" height="10.0" fill="#089981"/>
<line x1="587.67" x2="587.67" y1="372.0" y2="387.0" stroke="#089981" stroke-width="1" stroke-opacity="0.58"/>
<rect x="586.07" y="380.0" width="3.2" height="1.6" fill="#089981"/>
<line x1="591.89" x2="591.89" y1="374.0" y2="397.6" stroke="#f23645" stroke-width="1" stroke-opacity="0.58"/>
<rect x="590.29" y="380.0" width="3.2" height="13.0" fill="#f23645"/>
<line x1="596.11" x2="596.11" y1="360.0" y2="397.0" stroke="#089981" stroke-width="1" stroke-opacity="0.58"/>
<rect x="594.51" y="362.6" width="3.2" height="30.4" fill="#089981"/>
<line x1="600.32" x2="600.32" y1="359.0" y2="375.0" stroke="#f23645" stroke-width="1" stroke-opacity="0.58"/>
<rect x="598.72" y="362.6" width="3.2" height="11.4" fill="#f23645"/>
<line x1="604.54" x2="604.54" y1="362.4" y2="374.0" stroke="#089981" stroke-width="1" stroke-opacity="0.58"/>
<rect x="602.94" y="363.0" width="3.2" height="10.6" fill="#089981"/>
<line x1="608.76" x2="608.76" y1="362.4" y2="392.4" stroke="#f23645" stroke-width="1" stroke-opacity="0.58"/>
<rect x="607.16" y="362.6" width="3.2" height="27.8" fill="#f23645"/>
<line x1="612.97" x2="612.97" y1="362.4" y2="391.0" stroke="#089981" stroke-width="1" stroke-opacity="0.58"/>
<rect x="611.37" y="365.0" width="3.2" height="25.4" fill="#089981"/>
<line x1="617.19" x2="617.19" y1="349.0" y2="368.4" stroke="#089981" stroke-width="1" stroke-opacity="0.58"/>
<rect x="615.59" y="352.4" width="3.2" height="12.6" fill="#089981"/>
<line x1="621.41" x2="621.41" y1="328.0" y2="355.0" stroke="#089981" stroke-width="1" stroke-opacity="0.58"/>
<rect x="619.81" y="332.0" width="3.2" height="20.4" fill="#089981"/>
<line x1="625.62" x2="625.62" y1="305.0" y2="334.4" stroke="#089981" stroke-width="1" stroke-opacity="0.58"/>
<rect x="624.02" y="311.6" width="3.2" height="20.4" fill="#089981"/>
<line x1="629.84" x2="629.84" y1="305.0" y2="313.0" stroke="#089981" stroke-width="1" stroke-opacity="0.58"/>
<rect x="628.24" y="306.6" width="3.2" height="5.0" fill="#089981"/>
<line x1="634.06" x2="634.06" y1="294.0" y2="307.0" stroke="#089981" stroke-width="1" stroke-opacity="0.58"/>
<rect x="632.46" y="296.4" width="3.2" height="10.2" fill="#089981"/>
<line x1="638.27" x2="638.27" y1="296.0" y2="323.0" stroke="#f23645" stroke-width="1" stroke-opacity="0.58"/>
<rect x="636.67" y="296.4" width="3.2" height="15.2" fill="#f23645"/>
<line x1="642.49" x2="642.49" y1="308.0" y2="319.0" stroke="#f23645" stroke-width="1" stroke-opacity="0.58"/>
<rect x="640.89" y="311.6" width="3.2" height="6.4" fill="#f23645"/>
<line x1="646.71" x2="646.71" y1="315.0" y2="326.0" stroke="#f23645" stroke-width="1" stroke-opacity="0.58"/>
<rect x="645.11" y="318.4" width="3.2" height="3.2" fill="#f23645"/>
<line x1="650.92" x2="650.92" y1="306.0" y2="325.0" stroke="#089981" stroke-width="1" stroke-opacity="0.58"/>
<rect x="649.32" y="309.6" width="3.2" height="12.0" fill="#089981"/>
<line x1="655.14" x2="655.14" y1="280.0" y2="311.0" stroke="#089981" stroke-width="1" stroke-opacity="0.58"/>
<rect x="653.54" y="281.0" width="3.2" height="28.6" fill="#089981"/>
<line x1="659.36" x2="659.36" y1="245.0" y2="281.6" stroke="#089981" stroke-width="1" stroke-opacity="0.58"/>
<rect x="657.76" y="247.6" width="3.2" height="33.4" fill="#089981"/>
<line x1="663.57" x2="663.57" y1="246.4" y2="282.4" stroke="#f23645" stroke-width="1" stroke-opacity="0.58"/>
<rect x="661.97" y="247.6" width="3.2" height="28.0" fill="#f23645"/>
<line x1="667.79" x2="667.79" y1="264.0" y2="276.0" stroke="#089981" stroke-width="1" stroke-opacity="0.58"/>
<rect x="666.19" y="266.4" width="3.2" height="9.2" fill="#089981"/>
<line x1="672.01" x2="672.01" y1="265.0" y2="281.6" stroke="#f23645" stroke-width="1" stroke-opacity="0.58"/>
<rect x="670.41" y="266.4" width="3.2" height="10.6" fill="#f23645"/>
<line x1="676.22" x2="676.22" y1="276.0" y2="289.0" stroke="#f23645" stroke-width="1" stroke-opacity="0.58"/>
<rect x="674.62" y="277.6" width="3.2" height="11.0" fill="#f23645"/>
<line x1="680.44" x2="680.44" y1="278.0" y2="326.4" stroke="#f23645" stroke-width="1" stroke-opacity="0.58"/>
<rect x="678.84" y="288.6" width="3.2" height="37.4" fill="#f23645"/>
<line x1="684.66" x2="684.66" y1="326.0" y2="347.0" stroke="#f23645" stroke-width="1" stroke-opacity="0.58"/>
<rect x="683.06" y="326.0" width="3.2" height="18.0" fill="#f23645"/>
<line x1="688.87" x2="688.87" y1="339.0" y2="348.0" stroke="#f23645" stroke-width="1" stroke-opacity="0.58"/>
<rect x="687.27" y="344.0" width="3.2" height="2.0" fill="#f23645"/>
<line x1="693.09" x2="693.09" y1="342.0" y2="359.0" stroke="#f23645" stroke-width="1" stroke-opacity="0.58"/>
<rect x="691.49" y="346.4" width="3.2" height="10.6" fill="#f23645"/>
<line x1="697.31" x2="697.31" y1="325.0" y2="366.4" stroke="#089981" stroke-width="1" stroke-opacity="0.58"/>
<rect x="695.71" y="328.0" width="3.2" height="29.0" fill="#089981"/>
<line x1="701.53" x2="701.53" y1="295.0" y2="334.0" stroke="#089981" stroke-width="1" stroke-opacity="0.58"/>
<rect x="699.93" y="299.4" width="3.2" height="28.6" fill="#089981"/>
<line x1="705.74" x2="705.74" y1="275.0" y2="300.0" stroke="#089981" stroke-width="1" stroke-opacity="0.58"/>
<rect x="704.14" y="277.0" width="3.2" height="22.4" fill="#089981"/>
<line x1="709.96" x2="709.96" y1="256.6" y2="278.4" stroke="#089981" stroke-width="1" stroke-opacity="0.58"/>
<rect x="708.36" y="266.0" width="3.2" height="11.0" fill="#089981"/>
<line x1="714.18" x2="714.18" y1="263.6" y2="300.0" stroke="#f23645" stroke-width="1" stroke-opacity="0.58"/>
<rect x="712.58" y="266.0" width="3.2" height="33.4" fill="#f23645"/>
<line x1="718.39" x2="718.39" y1="298.0" y2="309.0" stroke="#f23645" stroke-width="1" stroke-opacity="0.58"/>
<rect x="716.79" y="299.4" width="3.2" height="2.2" fill="#f23645"/>
<line x1="722.61" x2="722.61" y1="276.0" y2="305.0" stroke="#089981" stroke-width="1" stroke-opacity="0.58"/>
<rect x="721.01" y="281.6" width="3.2" height="19.4" fill="#089981"/>
<line x1="726.83" x2="726.83" y1="221.0" y2="282.0" stroke="#089981" stroke-width="1" stroke-opacity="0.58"/>
<rect x="725.23" y="224.0" width="3.2" height="57.6" fill="#089981"/>
<line x1="731.04" x2="731.04" y1="219.0" y2="236.4" stroke="#f23645" stroke-width="1" stroke-opacity="0.58"/>
<rect x="729.44" y="224.0" width="3.2" height="10.4" fill="#f23645"/>
<line x1="735.26" x2="735.26" y1="224.0" y2="236.0" stroke="#089981" stroke-width="1" stroke-opacity="0.58"/>
<rect x="733.66" y="226.0" width="3.2" height="9.0" fill="#089981"/>
<line x1="739.48" x2="739.48" y1="226.0" y2="242.0" stroke="#f23645" stroke-width="1" stroke-opacity="0.58"/>
<rect x="737.88" y="226.0" width="3.2" height="16.0" fill="#f23645"/>
</g>
<g clip-path="url(#cv)">
<rect x="13.01" y="435.4" width="2.4" height="128.6" fill="#089981"/>
<rect x="17.23" y="465.0" width="2.4" height="99.0" fill="#089981"/>
<rect x="21.45" y="440.0" width="2.4" height="124.0" fill="#089981"/>
<rect x="25.66" y="444.0" width="2.4" height="120.0" fill="#089981"/>
<rect x="29.88" y="501.0" width="2.4" height="63.0" fill="#089981"/>
<rect x="34.10" y="500.6" width="2.4" height="63.4" fill="#089981"/>
<rect x="38.31" y="485.0" width="2.4" height="79.0" fill="#089981"/>
<rect x="42.53" y="495.6" width="2.4" height="68.4" fill="#089981"/>
<rect x="46.75" y="457.0" width="2.4" height="107.0" fill="#089981"/>
<rect x="50.96" y="459.4" width="2.4" height="104.6" fill="#089981"/>
<rect x="55.18" y="542.0" width="2.4" height="22.0" fill="#089981"/>
<rect x="59.40" y="484.0" width="2.4" height="80.0" fill="#089981"/>
<rect x="63.61" y="494.0" width="2.4" height="70.0" fill="#089981"/>
<rect x="67.83" y="487.0" width="2.4" height="77.0" fill="#089981"/>
<rect x="72.05" y="452.4" width="2.4" height="111.6" fill="#089981"/>
<rect x="76.26" y="443.0" width="2.4" height="121.0" fill="#089981"/>
<rect x="80.48" y="489.0" width="2.4" height="75.0" fill="#089981"/>
<rect x="84.70" y="475.6" width="2.4" height="88.4" fill="#089981"/>
<rect x="88.91" y="493.0" width="2.4" height="71.0" fill="#089981"/>
<rect x="93.13" y="510.0" width="2.4" height="54.0" fill="#089981"/>
<rect x="97.35" y="456.0" width="2.4" height="108.0" fill="#089981"/>
<rect x="101.56" y="483.0" width="2.4" height="81.0" fill="#089981"/>
<rect x="105.78" y="523.4" width="2.4" height="40.6" fill="#089981"/>
<rect x="110.00" y="516.6" width="2.4" height="47.4" fill="#089981"/>
<rect x="114.22" y="507.4" width="2.4" height="56.6" fill="#089981"/>
<rect x="118.43" y="458.0" width="2.4" height="106.0" fill="#089981"/>
<rect x="122.65" y="465.0" width="2.4" height="99.0" fill="#089981"/>
<rect x="126.87" y="520.0" width="2.4" height="44.0" fill="#089981"/>
<rect x="131.08" y="471.0" width="2.4" height="93.0" fill="#089981"/>
<rect x="135.30" y="468.4" width="2.4" height="95.6" fill="#089981"/>
<rect x="139.52" y="515.0" width="2.4" height="49.0" fill="#089981"/>
<rect x="143.73" y="434.0" width="2.4" height="130.0" fill="#089981"/>
<rect x="147.95" y="477.0" width="2.4" height="87.0" fill="#089981"/>
<rect x="152.17" y="473.4" width="2.4" height="90.6" fill="#089981"/>
<rect x="156.38" y="472.0" width="2.4" height="92.0" fill="#089981"/>
<rect x="160.60" y="487.4" width="2.4" height="76.6" fill="#089981"/>
<rect x="164.82" y="469.4" width="2.4" height="94.6" fill="#089981"/>
<rect x="169.03" y="512.4" width="2.4" height="51.6" fill="#089981"/>
<rect x="173.25" y="437.6" width="2.4" height="126.4" fill="#089981"/>
<rect x="177.47" y="461.4" width="2.4" height="102.6" fill="#089981"/>
<rect x="181.68" y="483.4" width="2.4" height="80.6" fill="#089981"/>
<rect x="185.90" y="484.0" width="2.4" height="80.0" fill="#089981"/>
<rect x="190.12" y="491.6" width="2.4" height="72.4" fill="#089981"/>
<rect x="194.33" y="466.4" width="2.4" height="97.6" fill="#089981"/>
<rect x="198.55" y="521.4" width="2.4" height="42.6" fill="#089981"/>
<rect x="202.77" y="456.6" width="2.4" height="107.4" fill="#089981"/>
<rect x="206.98" y="479.0" width="2.4" height="85.0" fill="#089981"/>
<rect x="211.20" y="499.0" width="2.4" height="65.0" fill="#089981"/>
<rect x="215.42" y="495.6" width="2.4" height="68.4" fill="#089981"/>
<rect x="219.63" y="454.0" width="2.4" height="110.0" fill="#089981"/>
<rect x="223.85" y="474.0" width="2.4" height="90.0" fill="#089981"/>
<rect x="228.07" y="454.0" width="2.4" height="110.0" fill="#089981"/>
<rect x="232.29" y="473.4" width="2.4" height="90.6" fill="#089981"/>
<rect x="236.50" y="498.6" width="2.4" height="65.4" fill="#089981"/>
<rect x="240.72" y="506.4" width="2.4" height="57.6" fill="#089981"/>
<rect x="244.94" y="430.4" width="2.4" height="133.6" fill="#089981"/>
<rect x="249.15" y="477.6" width="2.4" height="86.4" fill="#089981"/>
<rect x="253.37" y="450.0" width="2.4" height="114.0" fill="#089981"/>
<rect x="257.59" y="500.6" width="2.4" height="63.4" fill="#089981"/>
<rect x="261.80" y="445.0" width="2.4" height="119.0" fill="#089981"/>
<rect x="266.02" y="444.6" width="2.4" height="119.4" fill="#089981"/>
<rect x="270.24" y="442.6" width="2.4" height="121.4" fill="#089981"/>
<rect x="274.45" y="467.6" width="2.4" height="96.4" fill="#089981"/>
<rect x="278.67" y="492.4" width="2.4" height="71.6" fill="#089981"/>
<rect x="282.89" y="472.6" width="2.4" height="91.4" fill="#089981"/>
<rect x="287.10" y="508.0" width="2.4" height="56.0" fill="#089981"/>
<rect x="291.32" y="457.0" width="2.4" height="107.0" fill="#089981"/>
<rect x="295.54" y="474.0" width="2.4" height="90.0" fill="#089981"/>
<rect x="299.75" y="485.4" width="2.4" height="78.6" fill="#089981"/>
<rect x="303.97" y="523.6" width="2.4" height="40.4" fill="#089981"/>
<rect x="308.19" y="486.6" width="2.4" height="77.4" fill="#089981"/>
<rect x="312.40" y="484.0" width="2.4" height="80.0" fill="#089981"/>
<rect x="316.62" y="447.6" width="2.4" height="116.4" fill="#089981"/>
<rect x="320.84" y="461.0" width="2.4" height="103.0" fill="#089981"/>
<rect x="325.06" y="508.0" width="2.4" height="56.0" fill="#089981"/>
<rect x="329.27" y="501.6" width="2.4" height="62.4" fill="#089981"/>
<rect x="333.49" y="452.0" width="2.4" height="112.0" fill="#089981"/>
<rect x="337.71" y="467.6" width="2.4" height="96.4" fill="#089981"/>
<rect x="341.92" y="472.0" width="2.4" height="92.0" fill="#089981"/>
<rect x="346.14" y="447.0" width="2.4" height="117.0" fill="#089981"/>
<rect x="350.36" y="468.0" width="2.4" height="96.0" fill="#089981"/>
<rect x="354.57" y="470.0" width="2.4" height="94.0" fill="#089981"/>
<rect x="358.79" y="484.4" width="2.4" height="79.6" fill="#089981"/>
<rect x="363.01" y="474.4" width="2.4" height="89.6" fill="#089981"/>
<rect x="367.22" y="458.0" width="2.4" height="106.0" fill="#089981"/>
<rect x="371.44" y="450.4" width="2.4" height="113.6" fill="#089981"/>
<rect x="375.66" y="524.0" width="2.4" height="40.0" fill="#089981"/>
<rect x="379.87" y="465.4" width="2.4" height="98.6" fill="#089981"/>
<rect x="384.09" y="444.4" width="2.4" height="119.6" fill="#089981"/>
<rect x="388.31" y="466.0" width="2.4" height="98.0" fill="#089981"/>
<rect x="392.52" y="461.6" width="2.4" height="102.4" fill="#089981"/>
<rect x="396.74" y="441.0" width="2.4" height="123.0" fill="#089981"/>
<rect x="400.96" y="451.0" width="2.4" height="113.0" fill="#089981"/>
<rect x="405.17" y="453.4" width="2.4" height="110.6" fill="#089981"/>
<rect x="409.39" y="515.4" width="2.4" height="48.6" fill="#089981"/>
<rect x="413.61" y="477.0" width="2.4" height="87.0" fill="#089981"/>
<rect x="417.82" y="447.6" width="2.4" height="116.4" fill="#089981"/>
<rect x="422.04" y="487.0" width="2.4" height="77.0" fill="#089981"/>
<rect x="426.26" y="442.0" width="2.4" height="122.0" fill="#089981"/>
<rect x="430.48" y="464.4" width="2.4" height="99.6" fill="#089981"/>
<rect x="434.69" y="471.0" width="2.4" height="93.0" fill="#089981"/>
<rect x="438.91" y="473.0" width="2.4" height="91.0" fill="#089981"/>
<rect x="443.13" y="445.0" width="2.4" height="119.0" fill="#089981"/>
<rect x="447.34" y="443.6" width="2.4" height="120.4" fill="#089981"/>
<rect x="451.56" y="470.4" width="2.4" height="93.6" fill="#089981"/>
<rect x="455.78" y="456.0" width="2.4" height="108.0" fill="#089981"/>
<rect x="459.99" y="487.4" width="2.4" height="76.6" fill="#089981"/>
<rect x="464.21" y="482.0" width="2.4" height="82.0" fill="#089981"/>
<rect x="468.43" y="476.6" width="2.4" height="87.4" fill="#089981"/>
<rect x="472.64" y="486.0" width="2.4" height="78.0" fill="#089981"/>
<rect x="476.86" y="482.4" width="2.4" height="81.6" fill="#089981"/>
<rect x="481.08" y="488.4" width="2.4" height="75.6" fill="#089981"/>
<rect x="485.29" y="493.0" width="2.4" height="71.0" fill="#089981"/>
<rect x="489.51" y="461.6" width="2.4" height="102.4" fill="#089981"/>
<rect x="493.73" y="500.6" width="2.4" height="63.4" fill="#089981"/>
<rect x="497.94" y="463.0" width="2.4" height="101.0" fill="#089981"/>
<rect x="502.16" y="455.6" width="2.4" height="108.4" fill="#089981"/>
<rect x="506.38" y="428.0" width="2.4" height="136.0" fill="#089981"/>
<rect x="510.59" y="467.4" width="2.4" height="96.6" fill="#089981"/>
<rect x="514.81" y="446.4" width="2.4" height="117.6" fill="#089981"/>
<rect x="519.03" y="458.6" width="2.4" height="105.4" fill="#089981"/>
<rect x="523.24" y="466.4" width="2.4" height="97.6" fill="#089981"/>
<rect x="527.46" y="473.4" width="2.4" height="90.6" fill="#089981"/>
<rect x="531.68" y="497.4" width="2.4" height="66.6" fill="#089981"/>
<rect x="535.90" y="457.4" width="2.4" height="106.6" fill="#089981"/>
<rect x="540.11" y="477.4" width="2.4" height="86.6" fill="#089981"/>
<rect x="544.33" y="472.6" width="2.4" height="91.4" fill="#089981"/>
<rect x="548.55" y="490.4" width="2.4" height="73.6" fill="#089981"/>
<rect x="552.76" y="472.0" width="2.4" height="92.0" fill="#089981"/>
<rect x="556.98" y="484.6" width="2.4" height="79.4" fill="#089981"/>
<rect x="561.20" y="460.4" width="2.4" height="103.6" fill="#089981"/>
<rect x="565.41" y="466.0" width="2.4" height="98.0" fill="#089981"/>
<rect x="569.63" y="429.4" width="2.4" height="134.6" fill="#089981"/>
<rect x="573.85" y="454.0" width="2.4" height="110.0" fill="#089981"/>
<rect x="578.06" y="477.6" width="2.4" height="86.4" fill="#089981"/>
<rect x="582.28" y="465.4" width="2.4" height="98.6" fill="#089981"/>
<rect x="586.50" y="470.0" width="2.4" height="94.0" fill="#089981"/>
<rect x="590.71" y="484.0" width="2.4" height="80.0" fill="#089981"/>
<rect x="594.93" y="495.0" width="2.4" height="69.0" fill="#089981"/>
<rect x="599.15" y="501.0" width="2.4" height="63.0" fill="#089981"/>
<rect x="603.36" y="482.4" width="2.4" height="81.6" fill="#089981"/>
<rect x="607.58" y="443.4" width="2.4" height="120.6" fill="#089981"/>
<rect x="611.80" y="426.4" width="2.4" height="137.6" fill="#089981"/>
<rect x="616.01" y="469.4" width="2.4" height="94.6" fill="#089981"/>
<rect x="620.23" y="455.4" width="2.4" height="108.6" fill="#089981"/>
<rect x="624.45" y="527.6" width="2.4" height="36.4" fill="#089981"/>
<rect x="628.66" y="472.4" width="2.4" height="91.6" fill="#089981"/>
<rect x="632.88" y="489.4" width="2.4" height="74.6" fill="#089981"/>
<rect x="637.10" y="441.6" width="2.4" height="122.4" fill="#089981"/>
<rect x="641.32" y="489.0" width="2.4" height="75.0" fill="#089981"/>
<rect x="645.53" y="461.6" width="2.4" height="102.4" fill="#089981"/>
<rect x="649.75" y="491.4" width="2.4" height="72.6" fill="#089981"/>
<rect x="653.97" y="504.6" width="2.4" height="59.4" fill="#089981"/>
<rect x="658.18" y="467.4" width="2.4" height="96.6" fill="#089981"/>
<rect x="662.40" y="493.6" width="2.4" height="70.4" fill="#089981"/>
<rect x="666.62" y="488.4" width="2.4" height="75.6" fill="#089981"/>
<rect x="670.83" y="445.6" width="2.4" height="118.4" fill="#089981"/>
<rect x="675.05" y="502.4" width="2.4" height="61.6" fill="#089981"/>
<rect x="679.27" y="521.0" width="2.4" height="43.0" fill="#089981"/>
<rect x="683.48" y="435.4" width="2.4" height="128.6" fill="#089981"/>
<rect x="687.70" y="466.6" width="2.4" height="97.4" fill="#089981"/>
<rect x="691.92" y="468.0" width="2.4" height="96.0" fill="#089981"/>
<rect x="696.13" y="474.4" width="2.4" height="89.6" fill="#089981"/>
<rect x="700.35" y="481.4" width="2.4" height="82.6" fill="#089981"/>
<rect x="704.57" y="491.4" width="2.4" height="72.6" fill="#089981"/>
<rect x="708.78" y="517.4" width="2.4" height="46.6" fill="#089981"/>
<rect x="713.00" y="515.4" width="2.4" height="48.6" fill="#089981"/>
<rect x="717.22" y="444.6" width="2.4" height="119.4" fill="#089981"/>
<rect x="721.43" y="492.4" width="2.4" height="71.6" fill="#089981"/>
<rect x="725.65" y="496.0" width="2.4" height="68.0" fill="#089981"/>
<rect x="729.87" y="476.4" width="2.4" height="87.6" fill="#089981"/>
<rect x="734.08" y="514.6" width="2.4" height="49.4" fill="#089981"/>
<rect x="738.30" y="468.0" width="2.4" height="96.0" fill="#089981"/>
</g>
<text transform="translate(743.7,33.8) scale(1.065,1)" font-size="10.8" text-anchor="start" fill="#595959">360.00</text>
<text transform="translate(743.7,87.8) scale(1.065,1)" font-size="10.8" text-anchor="start" fill="#595959">354.00</text>
<text transform="translate(743.7,141.8) scale(1.065,1)" font-size="10.8" text-anchor="start" fill="#595959">348.00</text>
<text transform="translate(743.7,195.8) scale(1.065,1)" font-size="10.8" text-anchor="start" fill="#595959">342.00</text>
<text transform="translate(743.7,249.8) scale(1.065,1)" font-size="10.8" text-anchor="start" fill="#595959">336.00</text>
<text transform="translate(743.7,303.8) scale(1.065,1)" font-size="10.8" text-anchor="start" fill="#595959">330.00</text>
<text transform="translate(743.7,357.8) scale(1.065,1)" font-size="10.8" text-anchor="start" fill="#595959">324.00</text>
<text transform="translate(743.7,411.8) scale(1.065,1)" font-size="10.8" text-anchor="start" fill="#595959">318.00</text>
<text transform="translate(743.7,437.8) scale(1.065,1)" font-size="10.8" text-anchor="start" fill="#595959">1500.00</text>
<text transform="translate(743.7,463.8) scale(1.065,1)" font-size="10.8" text-anchor="start" fill="#595959">1200.00</text>
<text transform="translate(743.7,489.7) scale(1.065,1)" font-size="10.8" text-anchor="start" fill="#595959">900.00</text>
<text transform="translate(743.7,515.7) scale(1.065,1)" font-size="10.8" text-anchor="start" fill="#595959">600.00</text>
<text transform="translate(743.7,541.7) scale(1.065,1)" font-size="10.8" text-anchor="start" fill="#595959">300.00</text>
<clipPath id="c0"><rect x="740" y="555" width="60" height="8.6"/></clipPath><g clip-path="url(#c0)">
<text transform="translate(743.5,567.7) scale(1.065,1)" font-size="10.8" text-anchor="start" fill="#595959">0.00</text>
</g>
<text transform="translate(61.1,579.0) scale(1.065,1)" font-size="10.8" text-anchor="middle" fill="#595959">03:43:40</text>
<text transform="translate(137.0,579.0) scale(1.065,1)" font-size="10.8" text-anchor="middle" fill="#595959">03:43:58</text>
<text transform="translate(212.9,579.0) scale(1.065,1)" font-size="10.8" text-anchor="middle" fill="#595959">03:44:16</text>
<text transform="translate(288.9,579.0) scale(1.065,1)" font-size="10.8" text-anchor="middle" fill="#595959">03:44:34</text>
<text transform="translate(364.8,579.0) scale(1.065,1)" font-size="10.8" text-anchor="middle" fill="#595959">03:44:52</text>
<text transform="translate(440.7,579.0) scale(1.065,1)" font-size="10.8" text-anchor="middle" fill="#595959">03:45:10</text>
<text transform="translate(516.6,579.0) scale(1.065,1)" font-size="10.8" text-anchor="middle" fill="#595959">03:45:28</text>
<text transform="translate(592.5,579.0) scale(1.065,1)" font-size="10.8" text-anchor="middle" fill="#595959">03:45:46</text>
<text transform="translate(668.5,579.0) scale(1.065,1)" font-size="10.8" text-anchor="middle" fill="#595959">03:46:04</text>
<rect x="637" y="18" width="35" height="7" fill="#1f77b4"/>
<text transform="translate(676.3,24.8) scale(1.058,1)" font-size="14.4" fill="#444">SMA 20</text>
<rect x="637" y="34" width="35" height="7" fill="#aec7e8"/>
<text transform="translate(676.3,40.8) scale(1.058,1)" font-size="14.4" fill="#444">+1 s</text>
<rect x="637" y="50" width="35" height="7" fill="#aec7e8"/>
<text transform="translate(676.3,56.8) scale(1.058,1)" font-size="14.4" fill="#444">-1 s</text>
<rect x="637" y="66" width="35" height="7" fill="url(#lg)"/>
<text transform="translate(676.3,72.8) scale(1.058,1)" font-size="14.4" fill="#444">AAPL</text>
</svg></body></html>
